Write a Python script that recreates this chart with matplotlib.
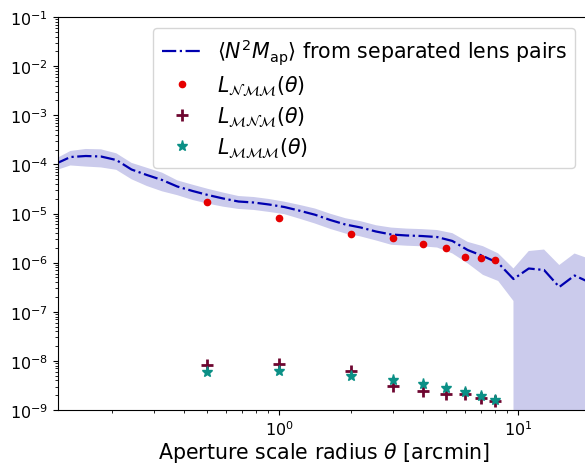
import numpy as np
import matplotlib
matplotlib.use("Agg")
import matplotlib.pyplot as plt

# ---------- data ----------
# <N^2 M_ap> from separated lens pairs (log-spaced bins) and its 1-sigma
theta_bins = [0.1159, 0.1342, 0.1555, 0.1801, 0.2087, 0.2417, 0.2801, 0.3244,
              0.3758, 0.4355, 0.5045, 0.5845, 0.6772, 0.7845, 0.9090, 1.053,
              1.220, 1.414, 1.638, 1.897, 2.198, 2.546, 2.950, 3.418, 3.960,
              4.587, 5.314, 6.156, 7.132, 8.262, 9.572, 11.09, 12.85, 14.88,
              17.24, 19.98]
n2map_mean = [1.018e-4, 1.413e-4, 1.481e-4, 1.446e-4, 1.228e-4, 7.86e-5, 6.08e-5,
              4.81e-5, 3.54e-5, 2.87e-5, 2.38e-5, 2.02e-5, 1.754e-5, 1.674e-5,
              1.525e-5, 1.356e-5, 1.140e-5, 9.45e-6, 7.38e-6, 5.97e-6, 5.19e-6,
              4.30e-6, 3.74e-6, 3.57e-6, 3.48e-6, 3.32e-6, 2.76e-6, 1.807e-6,
              1.364e-6, 9.83e-7, 4.64e-7, 7.59e-7, 7.08e-7, 3.19e-7, 5.47e-7,
              3.94e-7]
n2map_std = [2.67e-5, 4.62e-5, 5.78e-5, 5.79e-5, 4.53e-5, 2.88e-5, 2.45e-5,
             1.98e-5, 1.18e-5, 9.85e-6, 7.93e-6, 6.43e-6, 5.16e-6, 4.92e-6,
             4.48e-6, 3.86e-6, 3.56e-6, 3.19e-6, 2.52e-6, 2.05e-6, 1.78e-6,
             1.47e-6, 1.43e-6, 1.36e-6, 1.33e-6, 1.29e-6, 1.22e-6, 8.4e-7,
             8.0e-7, 5.6e-7, 2.98e-7, 9.65e-7, 1.14e-6, 5.76e-7, 9.87e-7, 7.9e-7]

# aperture statistics at fixed radii
theta_ap = [0.5, 1, 2, 3, 4, 5, 6, 7, 8]
L_NMM = [1.714e-5, 8.10e-6, 3.83e-6, 3.13e-6, 2.39e-6, 1.955e-6, 1.319e-6,
         1.242e-6, 1.131e-6]
L_MNM = [8.36e-9, 8.64e-9, 6.31e-9, 3.12e-9, 2.47e-9, 2.12e-9, 2.12e-9,
         1.73e-9, 1.50e-9]
L_MMM = [6.02e-9, 6.31e-9, 4.99e-9, 4.08e-9, 3.38e-9, 2.77e-9, 2.29e-9,
         1.90e-9, 1.60e-9]

plt.rcParams['font.size'] = 11.5

mean = np.array(n2map_mean)
std = np.array(n2map_std)

fig = plt.figure(figsize=(5.85, 4.64), dpi=100)
ax = fig.add_axes([0.0991, 0.1142, 0.9094, 0.847])

ax.fill_between(theta_bins, mean - std, mean + std, color='#cbcbec', lw=0)
ax.plot(theta_bins, mean, ls='-.', color='#0000b0', lw=1.6,
        label=r'$\langle N^2 M_\mathrm{ap}\rangle$ from separated lens pairs')
ax.plot(theta_ap, L_NMM, 'o', color='#e60000', ms=4.5, ls='none',
        label=r'$L_{\mathcal{NMM}}(\theta)$')
ax.plot(theta_ap, L_MNM, '+', color='#6e0630', ms=8, mew=2, ls='none',
        label=r'$L_{\mathcal{MNM}}(\theta)$')
ax.plot(theta_ap, L_MMM, '*', color='#0b9086', ms=8, ls='none',
        label=r'$L_{\mathcal{MMM}}(\theta)$')

ax.set_xscale('log')
ax.set_yscale('log')
ax.set_xlim(0.119, 20)
ax.set_ylim(1e-9, 1e-1)
ax.set_xlabel(r'Aperture scale radius $\theta$ [arcmin]', fontsize=14.8, labelpad=1)
ax.legend(loc='upper right', bbox_to_anchor=(0.972, 0.972), borderaxespad=0,
          fontsize=14.8, handlelength=1.95, handletextpad=0.75,
          labelspacing=0.3)

fig.savefig('out.png', dpi=100)
